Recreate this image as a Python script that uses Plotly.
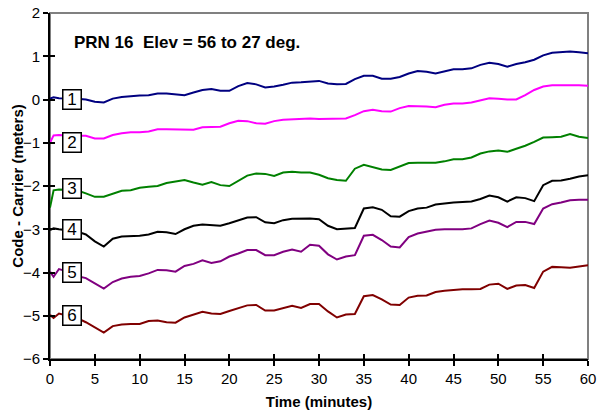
import plotly.graph_objects as go

time_min = [0, 0.4] + list(range(1, 61))

prn_1 = [0.02, 0.05, 0.03, 0.03, 0.02, 0.00, -0.05, -0.07, 0.02, 0.06, 0.08, 0.09, 0.10, 0.14, 0.14, 0.12,
         0.10, 0.16, 0.22, 0.24, 0.20, 0.20, 0.31, 0.38, 0.35, 0.28, 0.30, 0.34, 0.39, 0.40, 0.41, 0.43,
         0.37, 0.35, 0.36, 0.47, 0.55, 0.55, 0.48, 0.48, 0.52, 0.60, 0.66, 0.64, 0.60, 0.65, 0.70, 0.70,
         0.72, 0.80, 0.85, 0.82, 0.76, 0.82, 0.86, 0.92, 1.02, 1.08, 1.09, 1.11, 1.09, 1.07]
prn_2 = [-1.00, -0.83, -0.82, -0.84, -0.84, -0.84, -0.90, -0.90, -0.82, -0.78, -0.76, -0.76, -0.74, -0.69,
         -0.69, -0.69, -0.70, -0.70, -0.64, -0.63, -0.63, -0.55, -0.49, -0.50, -0.55, -0.56, -0.50, -0.47,
         -0.46, -0.44, -0.44, -0.45, -0.45, -0.45, -0.44, -0.36, -0.27, -0.24, -0.27, -0.28, -0.20, -0.15,
         -0.15, -0.16, -0.18, -0.12, -0.09, -0.09, -0.07, -0.02, 0.03, 0.02, 0.00, 0.00, 0.10, 0.22, 0.30,
         0.33, 0.33, 0.34, 0.33, 0.32]
prn_3 = [-2.50, -2.10, -2.08, -2.09, -2.10, -2.17, -2.25, -2.25, -2.18, -2.11, -2.10, -2.04, -2.02, -2.00,
         -1.93, -1.90, -1.86, -1.92, -1.97, -1.91, -1.98, -2.00, -1.88, -1.76, -1.71, -1.72, -1.77, -1.69,
         -1.67, -1.69, -1.69, -1.74, -1.82, -1.86, -1.88, -1.60, -1.51, -1.56, -1.62, -1.63, -1.55, -1.47,
         -1.46, -1.46, -1.46, -1.43, -1.38, -1.38, -1.34, -1.25, -1.20, -1.18, -1.21, -1.14, -1.07, -0.98,
         -0.88, -0.87, -0.86, -0.80, -0.86, -0.89]
prn_4 = [-3.02, -2.98, -3.00, -3.03, -3.05, -3.12, -3.28, -3.40, -3.22, -3.17, -3.16, -3.15, -3.12, -3.06,
         -3.07, -3.11, -3.00, -2.92, -2.89, -2.91, -2.92, -2.86, -2.80, -2.73, -2.72, -2.84, -2.86, -2.79,
         -2.76, -2.76, -2.75, -2.77, -2.92, -3.00, -2.99, -2.97, -2.52, -2.49, -2.55, -2.70, -2.71, -2.58,
         -2.52, -2.50, -2.43, -2.40, -2.38, -2.37, -2.36, -2.30, -2.22, -2.26, -2.36, -2.26, -2.28, -2.35,
         -1.98, -1.88, -1.87, -1.83, -1.78, -1.75]
prn_5 = [-3.98, -4.10, -3.92, -3.98, -4.08, -4.13, -4.25, -4.37, -4.22, -4.14, -4.10, -4.08, -4.02, -3.94,
         -3.95, -3.98, -3.85, -3.80, -3.72, -3.78, -3.74, -3.63, -3.56, -3.48, -3.48, -3.60, -3.60, -3.52,
         -3.47, -3.52, -3.36, -3.38, -3.58, -3.70, -3.63, -3.60, -3.15, -3.13, -3.25, -3.40, -3.42, -3.18,
         -3.10, -3.05, -3.01, -3.00, -3.00, -3.00, -2.98, -2.88, -2.80, -2.85, -2.95, -2.83, -2.83, -2.88,
         -2.52, -2.42, -2.38, -2.33, -2.32, -2.32]
prn_6 = [-4.98, -5.05, -4.95, -5.00, -5.05, -5.15, -5.28, -5.39, -5.24, -5.20, -5.19, -5.19, -5.12, -5.11,
         -5.15, -5.16, -5.04, -4.98, -4.91, -4.95, -4.96, -4.89, -4.82, -4.76, -4.75, -4.88, -4.88, -4.82,
         -4.77, -4.82, -4.73, -4.73, -4.90, -5.04, -4.97, -4.96, -4.55, -4.52, -4.62, -4.74, -4.75, -4.58,
         -4.54, -4.53, -4.45, -4.42, -4.40, -4.39, -4.39, -4.38, -4.28, -4.26, -4.38, -4.30, -4.29, -4.36,
         -3.98, -3.87, -3.88, -3.89, -3.86, -3.83]

series = [prn_1, prn_2, prn_3, prn_4, prn_5, prn_6]
colors = ["#000080", "#FF00FF", "#008000", "#000000", "#800080", "#800000"]
label_text = ["1", "2", "3", "4", "5", "6"]
label_y = [0, -1, -2.05, -3, -4, -5]
label_x = 2.45

x_ticks = list(range(0, 61, 5))
y_ticks = list(range(-6, 3))

FONT = "Liberation Sans, Arial, sans-serif"

fig = go.Figure()
for ys, c in zip(series, colors):
    fig.add_trace(go.Scatter(x=time_min, y=ys, mode="lines", line=dict(color=c, width=2),
                             showlegend=False, hoverinfo="skip"))

for t, yv in zip(label_text, label_y):
    fig.add_annotation(x=label_x, y=yv, text=t, showarrow=False,
                       font=dict(family=FONT, size=17, color="black"),
                       bgcolor="white", bordercolor="black", borderwidth=1.5, borderpad=0,
                       width=17, height=18, xanchor="center", yanchor="middle")

fig.add_annotation(x=0.04, y=0.915, xref="paper", yref="paper",
                   text="<b>PRN 16  Elev = 56 to 27 deg.</b>", showarrow=False,
                   xanchor="left", yanchor="middle",
                   font=dict(family=FONT, size=17, color="black"))

# y-axis title placed as rotated text left of the tick labels
fig.add_annotation(x=-0.062, y=0.5, xref="paper", yref="paper",
                   text="<b>Code - Carrier (meters)</b>", showarrow=False, textangle=-90,
                   xanchor="center", yanchor="middle",
                   font=dict(family=FONT, size=15, color="black"))

fig.add_shape(type="rect", xref="paper", yref="paper", x0=0, y0=0, x1=1, y1=1,
              line=dict(color="#808080", width=2), layer="below")

axis_common = dict(showgrid=False, zeroline=False, automargin=False)
fig.update_layout(
    width=598, height=416,
    margin=dict(l=50, r=10, t=13, b=57),
    paper_bgcolor="white", plot_bgcolor="white",
    font=dict(family=FONT, size=15, color="black"),
    xaxis=dict(range=[0, 60], tickvals=x_ticks, ticks="outside", ticklen=5, tickwidth=1.5,
               tickcolor="black", showline=True, linecolor="black", linewidth=2,
               title=dict(text="<b>Time (minutes)</b>", font=dict(size=15), standoff=10),
               tickfont=dict(size=15), **axis_common),
    yaxis=dict(range=[-6, 2], tickvals=y_ticks, ticks="outside", ticklen=5, tickwidth=1.5,
               tickcolor="black", showline=True, linecolor="black", linewidth=2,
               tickfont=dict(size=15), **axis_common),
    xaxis2=dict(range=[0, 60], tickvals=x_ticks, ticks="inside", ticklen=5, tickwidth=1.5,
                tickcolor="black", showticklabels=False, overlaying="x", matches="x",
                anchor="y", side="bottom", **axis_common),
    yaxis2=dict(range=[-6, 2], tickvals=y_ticks, ticks="inside", ticklen=5, tickwidth=1.5,
                tickcolor="black", showticklabels=False, overlaying="y", matches="y",
                anchor="x", side="left", **axis_common),
)
fig.add_trace(go.Scatter(x=[None], y=[None], xaxis="x2", yaxis="y2", showlegend=False, hoverinfo="skip"))

fig.write_html("out.html", config={"displayModeBar": False},
               post_script="document.body.style.margin='0';document.body.style.overflow='hidden';")
